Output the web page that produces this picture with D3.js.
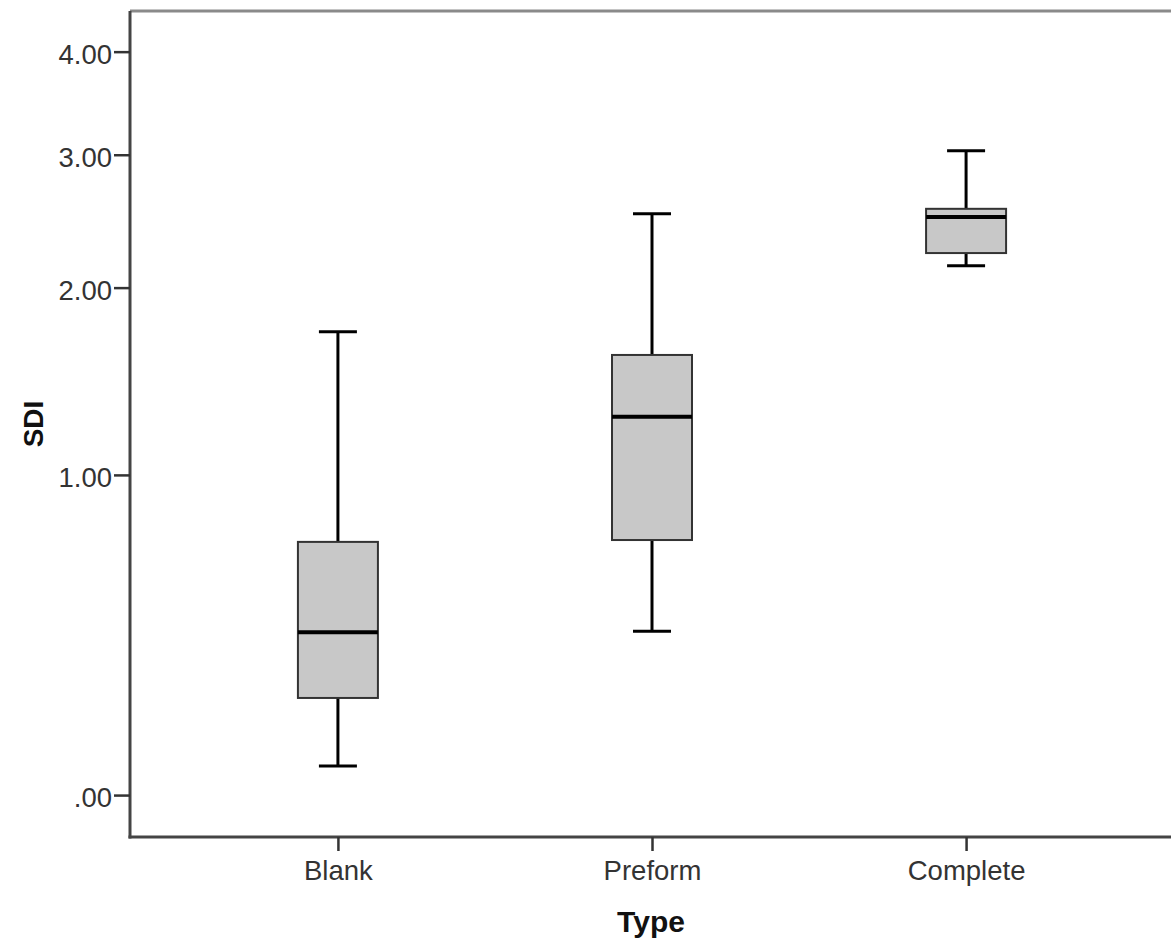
<!DOCTYPE html>
<html>
<head>
<meta charset="utf-8">
<script src="https://cdn.jsdelivr.net/npm/d3@7"></script>
<style>
  body { margin: 0; background: #fff; }
  .ticklabel { font-family: "Liberation Sans", Arial, sans-serif; font-size: 27.5px; fill: #333; }
  .axistitle { font-family: "Liberation Sans", Arial, sans-serif; font-weight: bold; fill: #111; }
</style>
</head>
<body>
<div id="chart"></div>
<script>
// ---- data ----
const types = ["Blank", "Preform", "Complete"];
const whiskerLow = [0.065, 0.426, 2.145];
const q1 = [0.234, 0.737, 2.233];
const median = [0.423, 1.268, 2.495];
const q3 = [0.730, 1.593, 2.558];
const whiskerHigh = [1.726, 2.52, 3.035];
const yTicks = [0, 1, 2, 3, 4];

// ---- layout ----
const width = 1171, height = 945;
const plotLeft = 130, plotRight = 1174, plotTop = 11, plotBottom = 837;

const svg = d3.select("#chart").append("svg")
  .attr("width", width)
  .attr("height", height);

// y axis is log(1+x) style, symlog with constant 1 does exactly that
const y = d3.scaleSymlog()
  .constant(1)
  .domain([-0.095, 4.46])
  .range([plotBottom, plotTop]);

const x = d3.scalePoint()
  .domain(types)
  .range([plotLeft, plotRight])
  .padding(0.662);

// frame: top line is gray, left + bottom are the axes (right side runs off the image)
svg.append("line")
  .attr("x1", plotLeft).attr("x2", width)
  .attr("y1", plotTop).attr("y2", plotTop)
  .attr("stroke", "#8a8a8a").attr("stroke-width", 3);

// y axis
const yAxis = svg.append("g")
  .attr("transform", `translate(${plotLeft},0)`)
  .call(d3.axisLeft(y)
    .tickValues(yTicks)
    .tickSize(16)
    .tickSizeOuter(0)
    .tickPadding(2)
    .tickFormat(d => d === 0 ? ".00" : d3.format(".2f")(d)));

// x axis
const xAxis = svg.append("g")
  .attr("transform", `translate(0,${plotBottom})`)
  .call(d3.axisBottom(x)
    .tickSize(14)
    .tickSizeOuter(0)
    .tickPadding(9));

[yAxis, xAxis].forEach(ax => {
  ax.attr("font-size", null).attr("font-family", null);
  ax.select(".domain").attr("stroke", "#444").attr("stroke-width", 3);
  ax.selectAll(".tick line").attr("stroke", "#333").attr("stroke-width", 2.5);
  ax.selectAll(".tick text").attr("class", "ticklabel").attr("fill", null);
});
yAxis.selectAll(".tick text").attr("dy", "0.42em");
// make the axis lines meet at the corner
yAxis.select(".domain").attr("d", `M0,${plotTop}V${plotBottom + 1.5}`);
xAxis.select(".domain").attr("d", `M${plotLeft - 1.5},0H${width}`);

// ---- boxes ----
const boxW = 80, capW = 38;
const boxes = svg.append("g");

types.forEach((t, i) => {
  const cx = x(t);
  const g = boxes.append("g");

  // whiskers
  g.append("line")
    .attr("x1", cx).attr("x2", cx)
    .attr("y1", y(whiskerHigh[i])).attr("y2", y(q3[i]))
    .attr("stroke", "#000").attr("stroke-width", 3);
  g.append("line")
    .attr("x1", cx).attr("x2", cx)
    .attr("y1", y(q1[i])).attr("y2", y(whiskerLow[i]))
    .attr("stroke", "#000").attr("stroke-width", 3);

  // caps
  [whiskerHigh[i], whiskerLow[i]].forEach(v => {
    g.append("line")
      .attr("x1", cx - capW / 2).attr("x2", cx + capW / 2)
      .attr("y1", y(v)).attr("y2", y(v))
      .attr("stroke", "#000").attr("stroke-width", 3);
  });

  // box
  g.append("rect")
    .attr("x", cx - boxW / 2)
    .attr("y", y(q3[i]))
    .attr("width", boxW)
    .attr("height", y(q1[i]) - y(q3[i]))
    .attr("fill", "#c8c8c8")
    .attr("stroke", "#333")
    .attr("stroke-width", 2);

  // median
  g.append("line")
    .attr("x1", cx - boxW / 2).attr("x2", cx + boxW / 2)
    .attr("y1", y(median[i])).attr("y2", y(median[i]))
    .attr("stroke", "#000").attr("stroke-width", 4);
});

// ---- axis titles ----
svg.append("text")
  .attr("class", "axistitle")
  .attr("x", 651)
  .attr("y", 932)
  .attr("font-size", 30)
  .attr("text-anchor", "middle")
  .text("Type");

svg.append("text")
  .attr("class", "axistitle")
  .attr("transform", `translate(43,424) rotate(-90)`)
  .attr("font-size", 28)
  .attr("text-anchor", "middle")
  .text("SDI");
</script>
</body>
</html>
